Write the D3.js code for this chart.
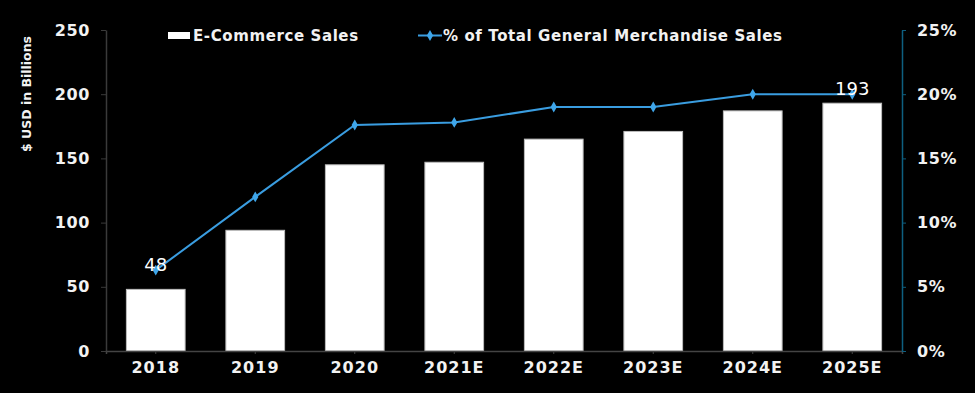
<!DOCTYPE html>
<html>
<head>
<meta charset="utf-8">
<script src="https://cdn.jsdelivr.net/npm/d3@7"></script>
<style>
  body { margin: 0; background: #000; }
  svg { display: block; font-family: "DejaVu Sans", Verdana, sans-serif; font-weight: bold; }
  .tick text { fill: #f2f2f2; font-size: 16px; font-family: "DejaVu Sans", Verdana, sans-serif; letter-spacing: 0.6px; }
  .x-axis .tick text { letter-spacing: 1px; }
</style>
</head>
<body>
<svg></svg>
<script>
const years = ["2018", "2019", "2020", "2021E", "2022E", "2023E", "2024E", "2025E"];
const sales = [48, 94, 145, 147, 165, 171, 187, 193];
const shareOfTotal = [6.3, 12, 17.6, 17.8, 19, 19, 20, 20];
const leftTicks = [0, 50, 100, 150, 200, 250];
const rightTicks = [0, 5, 10, 15, 20, 25];
const labelled = ["2018", "2025E"];

const W = 975, H = 393;
const margin = { top: 30, right: 73, bottom: 42, left: 106 };
const width = W - margin.left - margin.right;
const height = H - margin.top - margin.bottom;

const svg = d3.select("svg")
  .attr("width", W)
  .attr("height", H)
  .append("g")
  .attr("transform", `translate(${margin.left},${margin.top})`);

const x = d3.scaleBand().domain(years).range([0, width]).paddingInner(0.41).paddingOuter(0.205);
const y = d3.scaleLinear().domain([0, 250]).range([height, 0]);
const y2 = d3.scaleLinear().domain([0, 25]).range([height, 0]);

// bars
svg.selectAll(".bar").data(years)
  .join("rect")
  .attr("class", "bar")
  .attr("x", d => x(d))
  .attr("width", x.bandwidth())
  .attr("y", (d, i) => y(sales[i]))
  .attr("height", (d, i) => height - y(sales[i]))
  .attr("fill", "#fff")
  .attr("stroke", "#bdbdbd")
  .attr("stroke-width", 1);

// axes
const xAxis = svg.append("g")
  .attr("class", "x-axis")
  .attr("transform", `translate(0,${height})`)
  .call(d3.axisBottom(x).tickSize(3).tickPadding(8));
xAxis.select(".domain").attr("stroke", "#444").attr("stroke-width", 1.5);
xAxis.selectAll(".tick line").attr("stroke", "#444");

const yAxis = svg.append("g")
  .call(d3.axisLeft(y).tickValues(leftTicks).tickSize(5).tickSizeOuter(0).tickPadding(11));
yAxis.select(".domain").attr("stroke", "#3a3a3a").attr("stroke-width", 1.5);
yAxis.selectAll(".tick line").attr("stroke", "#3a3a3a");

const yAxis2 = svg.append("g")
  .attr("transform", `translate(${width},0)`)
  .call(d3.axisRight(y2).tickValues(rightTicks).tickSize(4).tickSizeOuter(0).tickPadding(11)
    .tickFormat(d => d + "%"));
yAxis2.select(".domain").attr("stroke", "#0e5f80").attr("stroke-width", 1.5);
yAxis2.selectAll(".tick line").attr("stroke", "#0e5f80");

svg.append("text")
  .attr("text-anchor", "middle")
  .attr("transform", "rotate(-90)")
  .attr("x", -64)
  .attr("y", -75)
  .attr("fill", "#f2f2f2")
  .style("font-size", "12.5px")
  .text("$ USD in Billions");

// percent line
const cx = i => x(years[i]) + x.bandwidth() / 2;
const line = d3.line()
  .x((d, i) => cx(i))
  .y(d => y2(d));

svg.append("path")
  .datum(shareOfTotal)
  .attr("fill", "none")
  .attr("stroke", "#3a9de0")
  .attr("stroke-width", 2)
  .attr("d", line);

const diamond = d3.symbol().type(d3.symbolDiamond).size(34);
svg.selectAll(".marker").data(shareOfTotal)
  .join("path")
  .attr("class", "marker")
  .attr("transform", (d, i) => `translate(${cx(i)},${y2(d)})`)
  .attr("fill", "#3fa6ea")
  .attr("d", diamond);

// data labels
svg.selectAll(".dlabel").data(years.filter(d => labelled.includes(d)))
  .join("text")
  .attr("class", "dlabel")
  .attr("text-anchor", "middle")
  .attr("x", d => x(d) + x.bandwidth() / 2)
  .attr("y", d => y2(shareOfTotal[years.indexOf(d)]) + 1)
  .attr("fill", "#fff")
  .style("font-weight", "normal")
  .style("font-size", "18px")
  .text(d => sales[years.indexOf(d)]);

// legend
const legend = svg.append("g");
legend.append("rect")
  .attr("x", 62).attr("y", 2).attr("width", 22).attr("height", 7)
  .attr("fill", "#fff");
legend.append("text")
  .attr("x", 87).attr("y", 11)
  .attr("fill", "#f2f2f2")
  .style("font-size", "15px")
  .style("letter-spacing", "0.6px")
  .text("E-Commerce Sales");
legend.append("line")
  .attr("x1", 312).attr("x2", 336).attr("y1", 5.5).attr("y2", 5.5)
  .attr("stroke", "#3a9de0").attr("stroke-width", 2);
legend.append("path")
  .attr("transform", "translate(324,5.5)")
  .attr("fill", "#3fa6ea")
  .attr("d", diamond);
legend.append("text")
  .attr("x", 337).attr("y", 11)
  .attr("fill", "#f2f2f2")
  .style("font-size", "15px")
  .style("letter-spacing", "0.6px")
  .text("% of Total General Merchandise Sales");
</script>
</body>
</html>
